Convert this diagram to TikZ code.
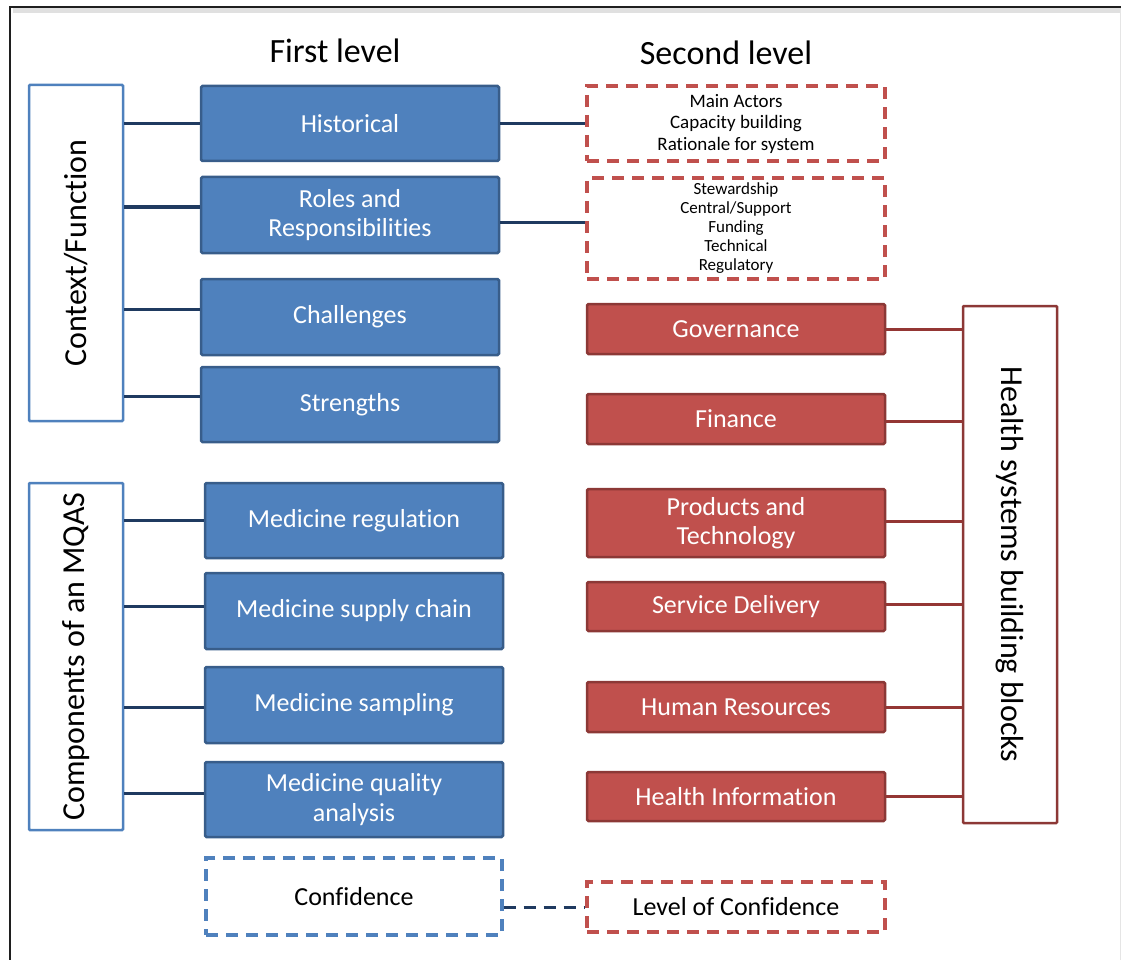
\documentclass[tikz,border=0pt]{standalone}
\usepackage{fontspec}
\setmainfont{Carlito}[Ligatures={NoCommon}]

\definecolor{bluefill}{HTML}{4F81BD}
\definecolor{blueedge}{HTML}{385D8A}
\definecolor{redfill}{HTML}{C0504D}
\definecolor{rededge}{HTML}{8C3836}
\definecolor{navyline}{HTML}{1F3A60}
\definecolor{wineline}{HTML}{943634}

\newcommand\titlefont{\fontsize{34}{40}\selectfont}
\newcommand\sidefont{\fontsize{32}{38}\selectfont}
\newcommand\tboxfont{\fontsize{26}{29.5}\selectfont}
\newcommand\listfont{\fontsize{19}{21.5}\selectfont}
\newcommand\smalllistfont{\fontsize{17}{19}\selectfont}

\tikzset{
  bluebox/.style={draw=blueedge, fill=bluefill, line width=2.5pt, rounded corners=1.5pt,
    text=white, font=\tboxfont, align=center, inner sep=0pt,
    minimum width=298pt},
  redbox/.style={draw=rededge, fill=redfill, line width=2.5pt, rounded corners=1.5pt,
    text=white, font=\tboxfont, align=center, inner sep=0pt,
    minimum width=298pt},
  bluedash/.style={draw=bluefill, fill=white, line width=3.2pt, dash pattern=on 12pt off 8pt,
    text=black, font=\tboxfont, align=center, inner sep=0pt},
  reddash/.style={draw=redfill, fill=white, line width=3.2pt, dash pattern=on 12pt off 8pt,
    text=black, align=center, inner sep=0pt, minimum width=298pt},
  sidebox/.style={fill=white, line width=2.5pt, rounded corners=1pt, inner sep=0pt,
    font=\sidefont, minimum width=94pt},
  navylink/.style={draw=navyline, line width=3pt},
  winelink/.style={draw=wineline, line width=3pt},
}

\begin{document}
\begin{tikzpicture}[x=1pt, y=-1pt]
\useasboundingbox (0,0) rectangle (1121,960);

% page frame
\draw[black!12, line width=5pt] (13,11) -- (1121,11);
\draw[black!10, line width=1pt] (1120,9) -- (1120,960);
\draw[black!88, line width=2.5pt] (10,960) -- (10,7) -- (1121,7);

% column titles
\node[font=\titlefont] (t1) at (335,51) {First level};
\node[font=\titlefont] (t2) at (726,53) {Second level};

% left grouping boxes
\node[sidebox, draw=bluefill, minimum height=336pt] (ctx) at (76,253) {\rotatebox{90}{Context/Function}};
\node[sidebox, draw=bluefill, minimum height=347pt] (mqas) at (76,656.5) {\rotatebox{90}{Components of an MQAS}};

% first level boxes
\node[bluebox, minimum height=75pt] (hist) at (350,123.5) {Historical};
\node[bluebox, minimum height=76pt] (rol) at (350,215) {Roles and\\Responsibilities};
\node[bluebox, minimum height=76pt] (chal) at (350,317) {Challenges};
\node[bluebox, minimum height=75pt] (str) at (350,404.5) {Strengths};
\node[bluebox, minimum height=75pt] (mreg) at (354,520.5) {Medicine regulation};
\node[bluebox, minimum height=76pt] (msup) at (354,611) {Medicine supply chain};
\node[bluebox, minimum height=76pt] (msam) at (354,705) {Medicine sampling};
\node[bluebox, minimum height=75pt] (mqa) at (354,799.5) {Medicine quality\\analysis};
\node[bluedash, minimum width=296pt, minimum height=77pt] (conf) at (354,896.5) {Confidence};

% second level boxes
\node[reddash, minimum height=75pt, font=\listfont] (sl1) at (736,123.5)
  {Main Actors\\Capacity building\\Rationale for system};
\node[reddash, minimum height=101pt, font=\smalllistfont] (sl2) at (736,228.5)
  {Stewardship\\Central/Support\\Funding\\Technical\\Regulatory};
\node[redbox, minimum height=50pt] (gov) at (736,329) {Governance};
\node[redbox, minimum height=50pt] (fin) at (736,419) {Finance};
\node[redbox, minimum height=68pt] (prod) at (736,523) {Products and\\Technology};
\node[redbox, minimum height=49pt] (serv) at (736,606.5) {Service Delivery};
\node[redbox, minimum height=50pt] (hr) at (736,707) {Human Resources};
\node[redbox, minimum height=49pt] (hinf) at (736,796.5) {Health Information};
\node[reddash, minimum height=50pt, font=\tboxfont] (loc) at (736,907) {Level of Confidence};

% right grouping box
\node[sidebox, draw=rededge, minimum height=517pt] (hsb) at (1010,564.5) {\rotatebox{-90}{Health systems building blocks}};

% connectors: context/function
\draw[navylink] (ctx.east |- 0,124) -- (hist.west |- 0,124);
\draw[navylink] (ctx.east |- 0,207) -- (rol.west |- 0,207);
\draw[navylink] (ctx.east |- 0,309) -- (chal.west |- 0,309);
\draw[navylink] (ctx.east |- 0,396) -- (str.west |- 0,396);

% connectors: MQAS components
\draw[navylink] (mqas.east |- 0,520) -- (mreg.west |- 0,520);
\draw[navylink] (mqas.east |- 0,606) -- (msup.west |- 0,606);
\draw[navylink] (mqas.east |- 0,707) -- (msam.west |- 0,707);
\draw[navylink] (mqas.east |- 0,793) -- (mqa.west |- 0,793);

% connectors: first to second level
\draw[navylink] (hist.east |- 0,124) -- (sl1.west |- 0,124);
\draw[navylink] (rol.east |- 0,222) -- (sl2.west |- 0,222);
\draw[navylink, dash pattern=on 12pt off 8pt] (conf.east |- loc.west) -- (loc.west);

% connectors: building blocks
\draw[winelink] (gov.east) -- (gov.east -| hsb.west);
\draw[winelink] (fin.east |- 0,421) -- (hsb.west |- 0,421);
\draw[winelink] (prod.east |- 0,521) -- (hsb.west |- 0,521);
\draw[winelink] (serv.east |- 0,604) -- (hsb.west |- 0,604);
\draw[winelink] (hr.east) -- (hr.east -| hsb.west);
\draw[winelink] (hinf.east) -- (hinf.east -| hsb.west);
\end{tikzpicture}
\end{document}
